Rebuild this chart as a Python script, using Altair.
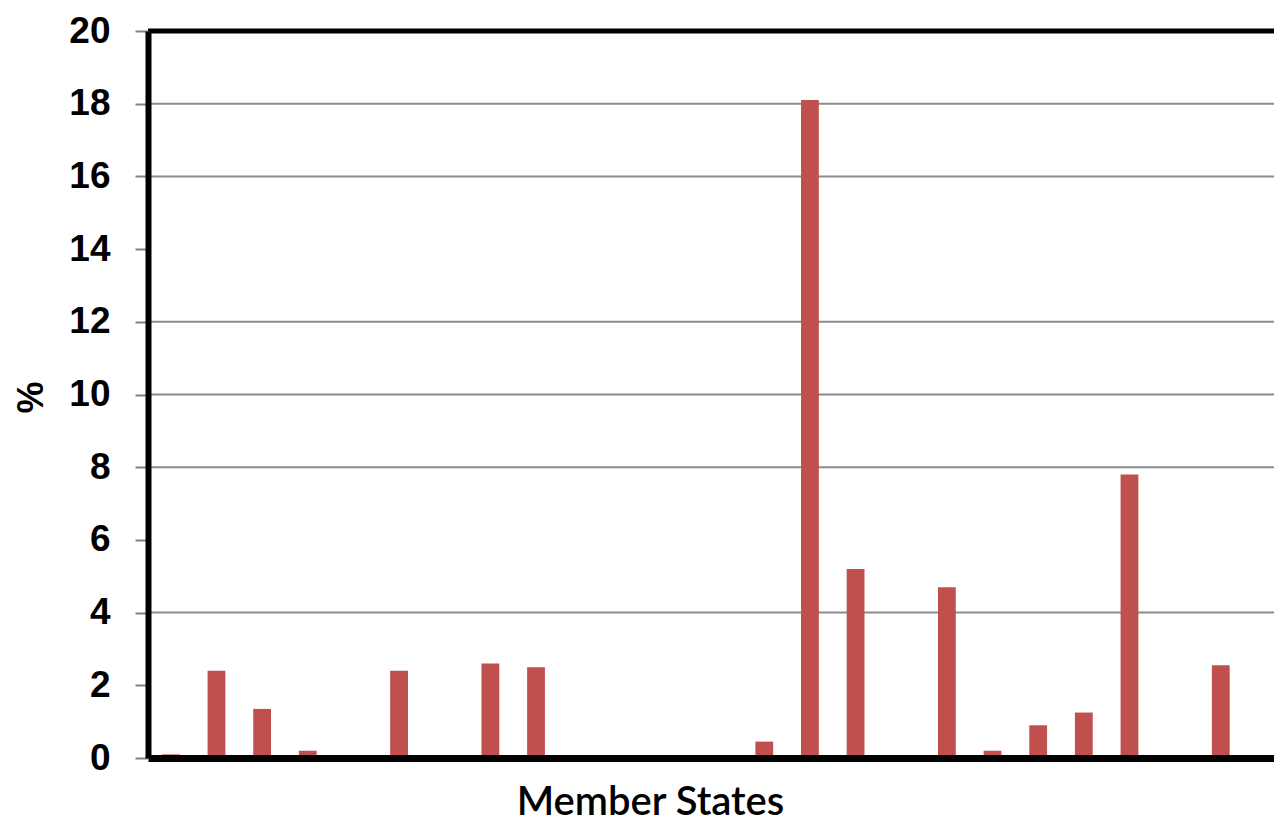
import altair as alt
import pandas as pd

states = ["AT", "BE", "BG", "CY", "CZ", "DE", "DK", "EE", "EL", "ES", "FI", "FR", "HU", "IE",
          "IT", "LT", "LU", "LV", "MT", "NL", "PL", "PT", "RO", "SE", "SI", "SK", "UK"]
share = [0.1, 2.4, 1.35, 0.2, 0, 2.4, 0, 2.6, 2.5, 0, 0, 0, 0, 0.45,
         18.1, 5.2, 0, 4.7, 0.2, 0.9, 1.25, 7.8, 0, 2.55, 0, 0, 0]
y_ticks = [0, 2, 4, 6, 8, 10, 12, 14, 16, 18, 20]
grid_values = [4, 8, 10, 12, 16, 18]
y_max = [20]

df = pd.DataFrame({"state": states, "share": share})
grid_df = pd.DataFrame({"g": grid_values})
top_df = pd.DataFrame({"t": y_max})

step = 45.65
x_scale = alt.Scale(domain=states, range=[0, len(states) * step], paddingInner=0.61, paddingOuter=0.305)
y_scale = alt.Scale(domain=[0, 20], nice=False)

y_axis = alt.Axis(values=y_ticks, title="%", grid=False,
                  domainColor="black", domainWidth=6, zindex=1,
                  tickColor="#808080", tickWidth=2, tickSize=13,
                  labelFont="Liberation Sans", labelFontSize=37, labelFontWeight="bold",
                  labelColor="black", labelPadding=25,
                  titleFont="Liberation Sans", titleFontSize=36, titleFontWeight="bold",
                  titleColor="black", titleX=-117, titleY=366, titleAngle=270,
                  titleAlign="center", titleBaseline="middle")

grid = alt.Chart(grid_df).mark_rule(color="#8c8c8c", strokeWidth=2).encode(
    y=alt.Y("g:Q", scale=y_scale, axis=y_axis, title="%")
)
top = alt.Chart(top_df).mark_rule(color="black", strokeWidth=5).encode(
    y=alt.Y("t:Q", scale=y_scale, axis=y_axis, title="%")
)
bars = alt.Chart(df).mark_bar(color="#C0504D").encode(
    x=alt.X("state:N", sort=states, scale=x_scale,
            axis=alt.Axis(title="Member States", labels=False, ticks=False,
                          domainColor="black", domainWidth=7, zindex=1,
                          titleFont="Lato", titleFontSize=40, titleFontWeight=600,
                          titleColor="black", titleX=502, titleY=56,
                          titleAlign="center", titleBaseline="alphabetic")),
    y=alt.Y("share:Q", scale=y_scale, axis=y_axis, title="%"),
)

chart = alt.layer(grid, top, bars).properties(
    width=1126, height=727,
    autosize=alt.AutoSizeParams(type="none"),
    padding={"left": 140, "top": 23, "right": 0, "bottom": 66},
).configure_view(stroke=None)

chart.save("out.html", embed_options={"renderer": "svg", "actions": False})
